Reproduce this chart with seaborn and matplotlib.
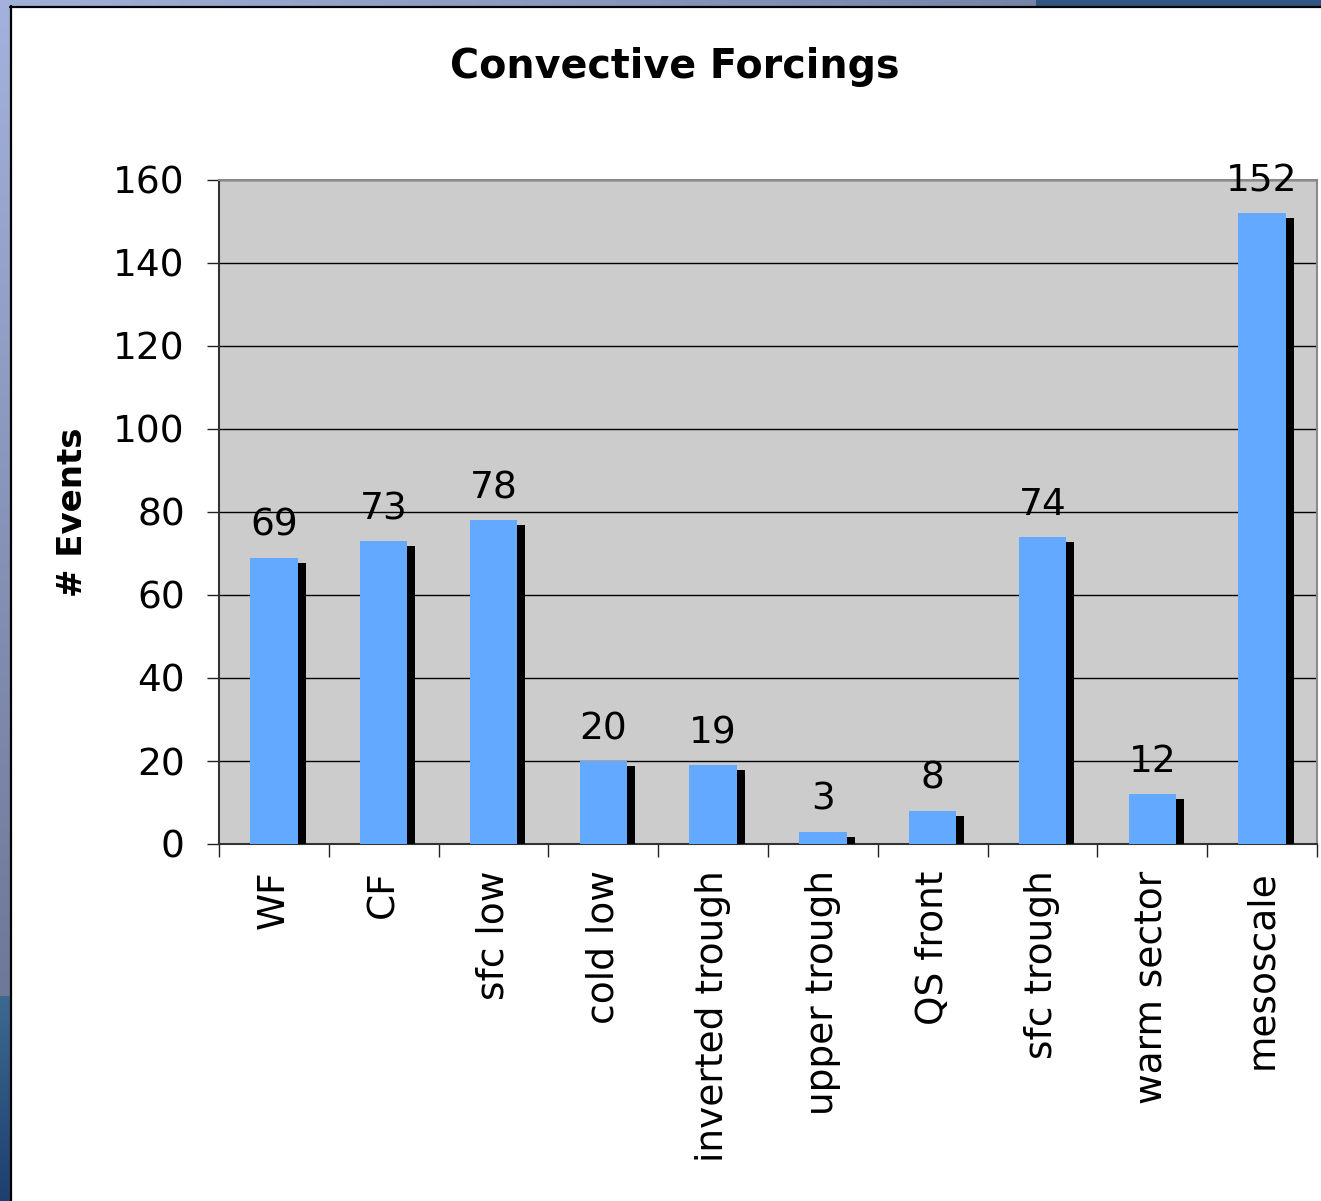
import numpy as np
import matplotlib
matplotlib.use("Agg")
import matplotlib.pyplot as plt
import matplotlib.patheffects as pe
from matplotlib.patches import Rectangle
from matplotlib.lines import Line2D
import seaborn as sns

# Convective forcing categories and number of events for each
categories = ["WF", "CF", "sfc low", "cold low", "inverted trough",
              "upper trough", "QS front", "sfc trough", "warm sector", "mesoscale"]
events = [69, 73, 78, 20, 19, 3, 8, 74, 12, 152]
y_ticks = [0, 20, 40, 60, 80, 100, 120, 140, 160]

sns.set_theme(style="white")
plt.rcParams["font.family"] = ["DejaVu Sans"]
plt.rcParams["text.color"] = "black"
plt.rcParams["xtick.color"] = "black"
plt.rcParams["ytick.color"] = "black"
plt.rcParams["xtick.labelcolor"] = "black"
plt.rcParams["ytick.labelcolor"] = "black"

W, H = 1321, 1201
fig = plt.figure(figsize=(W / 100, H / 100), dpi=100, facecolor="white")

# Slide frame behind the chart: coloured bands on the left and top edges
bg = fig.add_axes([0, 0, 1, 1], zorder=-10)
bg.set_xlim(0, W)
bg.set_ylim(H, 0)
bg.axis("off")

def vgrad(c0, c1, n=64):
    t = np.linspace(0, 1, n)[:, None, None]
    return (np.array(c0)[None, None, :] * (1 - t) + np.array(c1)[None, None, :] * t) / 255.0

def hgrad(c0, c1, n=64):
    t = np.linspace(0, 1, n)[None, :, None]
    return (np.array(c0)[None, None, :] * (1 - t) + np.array(c1)[None, None, :] * t) / 255.0

bg.imshow(vgrad((163, 178, 220), (110, 120, 152)), extent=(0, 10, 996, 0),
          aspect="auto", interpolation="bilinear")
bg.imshow(vgrad((61, 105, 144), (31, 63, 112)), extent=(0, 10, H, 996),
          aspect="auto", interpolation="bilinear")
bg.imshow(hgrad((160, 176, 216), (118, 132, 168)), extent=(10, 1036, 6, 0),
          aspect="auto", interpolation="bilinear")
bg.add_patch(Rectangle((1036, 0), W - 1036, 6, color=(47 / 255, 85 / 255, 128 / 255), lw=0))
bg.add_line(Line2D([10.5, 10.5], [6, H], color="black", lw=1.6))
bg.add_line(Line2D([10, W], [6.5, 6.5], color="black", lw=1.6))
bg.set_xlim(0, W)
bg.set_ylim(H, 0)

# Plot area
ax = fig.add_axes([219 / W, 1 - 844 / H, (1317 - 219) / W, (844 - 180) / H])
ax.set_facecolor("#cccccc")

sns.barplot(x=categories, y=events, color="#62A9FF", saturation=1, width=0.43,
            linewidth=0, ax=ax, zorder=3)

shadow = [pe.SimplePatchShadow(offset=(5.8, -3.6), shadow_rgbFace="black", alpha=1.0),
          pe.Normal()]
for bar in ax.patches:
    bar.set_path_effects(shadow)

ax.bar_label(ax.containers[0], labels=[str(v) for v in events], padding=10,
             fontsize=27, color="black", zorder=5)

ax.set_xlim(-0.5, len(categories) - 0.5)
ax.set_ylim(0, 160)
ax.set_yticks(y_ticks)
ax.set_yticklabels([str(v) for v in y_ticks])
ax.set_axisbelow(True)
ax.yaxis.grid(True, color="black", lw=1.0)
ax.xaxis.grid(False)

ax.tick_params(axis="y", which="major", direction="out", length=8.6, width=1.0,
               color="#222222", pad=16, labelsize=27, labelcolor="black", left=True)
ax.tick_params(axis="x", which="major", length=0, pad=19, labelsize=27,
               labelcolor="black", bottom=True)
ax.set_xticks(np.arange(-0.5, len(categories), 1.0), minor=True)
ax.tick_params(axis="x", which="minor", direction="out", length=9.4, width=1.0,
               color="#222222", bottom=True)
for lab in ax.get_xticklabels():
    lab.set_rotation(90)
    lab.set_va("top")
    lab.set_ha("center")

for side in ("top", "right"):
    ax.spines[side].set_color("#8a8a8a")
    ax.spines[side].set_linewidth(1.5)
for side in ("left", "bottom"):
    ax.spines[side].set_color("#333333")
    ax.spines[side].set_linewidth(1.5)
ax.set_xlabel("")
ax.set_ylabel("")

fig.text(675 / W, 1 - 67 / H, "Convective Forcings", ha="center", va="center",
         fontsize=28.5, fontweight="bold", color="black")
fig.text(72 / W, 1 - 512 / H, "# Events", ha="center", va="center", rotation=90,
         fontsize=24.5, fontweight="bold", color="black")

fig.savefig("out.png", dpi=100, facecolor="white")
